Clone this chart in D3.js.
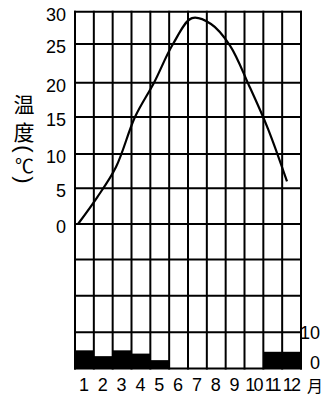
<!DOCTYPE html>
<html><head><meta charset="utf-8">
<script src="https://cdn.jsdelivr.net/npm/d3@7"></script>
<style>body{margin:0;background:#fff}svg{display:block}</style>
</head><body>
<svg id="c" width="324" height="398"></svg>
<script>
const months = ["1","2","3","4","5","6","7","8","9","10","11","12"];
const temperature = [0, 3.7, 8.1, 15, 20, 25, 29, 28.1, 24.8, 19.6, 13.4, 6];
const precipitation = [5, 3.4, 5, 4.1, 2.3, 0, 0, 0, 0, 0, 4.6, 4.6];
const tempTicks = [0, 5, 10, 15, 20, 25, 30];
const precipTicks = [0, 10];
const precipGrid = [0, 10, 20, 30];
const yTitleChars = ["温", "度"];
const unitC = "℃";
const monthUnit = "月";

const svg = d3.select("#c");
const x = d3.scaleBand().domain(months).range([75, 301]);
const xLine = d3.scalePoint().domain(months).range([78, 287]);
const yT = d3.scaleLinear().domain(tempTicks).range([224, 188.3, 154, 117, 82.7, 44, 11.7]);
const yP = d3.scaleLinear().domain([0, 30]).range([368.5, 259.5]);

const numFont = "'Liberation Sans', Arial, sans-serif";
const cjkFont = "'Noto Sans CJK SC', sans-serif";

// bars
svg.append("g").selectAll("rect").data(precipitation).join("rect")
  .attr("x", (d, i) => x(months[i]))
  .attr("width", x.bandwidth())
  .attr("y", d => yP(d))
  .attr("height", d => yP(0) - yP(d))
  .attr("fill", "#000");

// grid
const grid = svg.append("g").attr("stroke", "#000").attr("stroke-width", 2);
const vxs = months.map(m => x(m)).concat([x.range()[1]]);
grid.selectAll("line.v").data(vxs).join("line").attr("class", "v")
  .attr("x1", d => d).attr("x2", d => d)
  .attr("y1", yT(30) - 1).attr("y2", yP(0) + 1);
const hys = tempTicks.map(t => yT(t)).concat(precipGrid.map(p => yP(p)));
grid.selectAll("line.h").data(hys).join("line").attr("class", "h")
  .attr("x1", x.range()[0] - 1).attr("x2", x.range()[1] + 1)
  .attr("y1", d => d).attr("y2", d => d);

// temperature line
svg.append("path").datum(temperature)
  .attr("fill", "none").attr("stroke", "#000").attr("stroke-width", 2.2)
  .attr("d", d3.line().x((d, i) => xLine(months[i])).y(d => yT(d)).curve(d3.curveCatmullRom));

// left tick labels
svg.append("g").selectAll("text").data(tempTicks).join("text")
  .attr("x", 66).attr("y", d => yT(d)).attr("dy", 8.8)
  .attr("text-anchor", "end").attr("font-family", numFont).attr("font-size", 18)
  .text(d => d);

// right tick labels
svg.append("g").selectAll("text").data(precipTicks).join("text")
  .attr("x", 320).attr("y", d => yP(d)).attr("dy", d => d === 0 ? 0.5 : 7.2)
  .attr("text-anchor", "end").attr("font-family", numFont).attr("font-size", 18)
  .text(d => d);

// month labels
svg.append("g").selectAll("text").data(months).join("text")
  .attr("x", d => x(d) + x.bandwidth() / 2 - 0.5).attr("y", 391)
  .attr("text-anchor", "middle").attr("font-family", numFont)
  .attr("font-size", 18).attr("letter-spacing", d => d.length > 1 ? "-1.8px" : "0px")
  .text(d => d);
svg.append("text").attr("x", x.range()[1] + 6).attr("y", 392)
  .attr("font-family", cjkFont).attr("font-size", 16).text(monthUnit);

// y title
svg.append("g").selectAll("text").data(yTitleChars).join("text")
  .attr("x", 24).attr("y", (d, i) => 103 + i * 28)
  .attr("text-anchor", "middle").attr("dominant-baseline", "central")
  .attr("font-family", cjkFont).attr("font-size", 21).text(d => d);
svg.append("text").attr("transform", "translate(24.5,149) rotate(90)")
  .attr("text-anchor", "middle").attr("dominant-baseline", "central")
  .attr("font-family", numFont).attr("font-size", 22).text("(");
svg.append("text").attr("x", 24.5).attr("y", 164)
  .attr("text-anchor", "middle").attr("dominant-baseline", "central")
  .attr("font-family", cjkFont).attr("font-size", 19).text(unitC);
svg.append("text").attr("transform", "translate(24.5,180) rotate(90)")
  .attr("text-anchor", "middle").attr("dominant-baseline", "central")
  .attr("font-family", numFont).attr("font-size", 22).text(")");
</script>
</body></html>
